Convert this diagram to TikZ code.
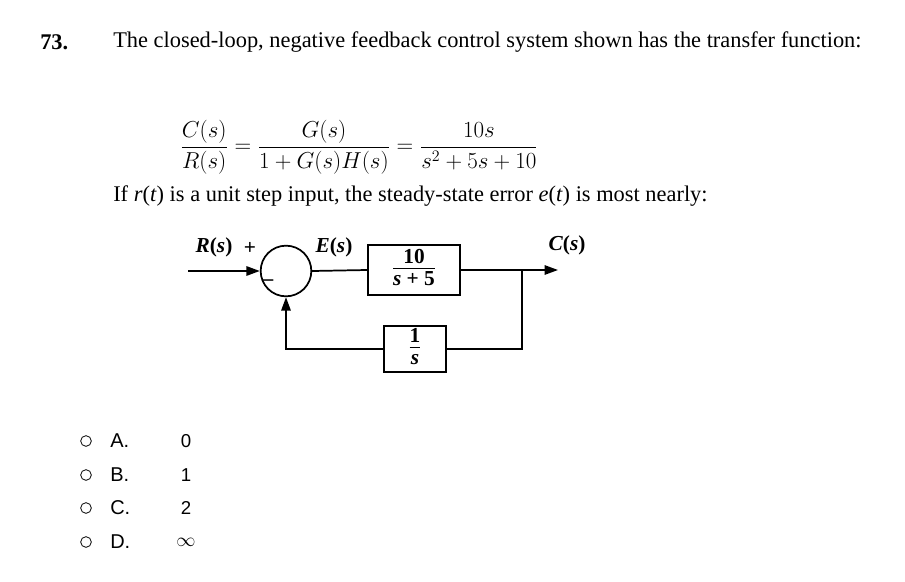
\documentclass[tikz,border=0pt]{standalone}
\usepackage{fontspec}
\setmainfont{Liberation Serif}
\newfontfamily\sansf{Liberation Sans}
\usetikzlibrary{arrows.meta}
\newcommand{\bfr}[2]{\ensuremath{\vcenter{\hbox{\begin{tabular}{@{}c@{}}#1\\[-2pt]\hline\rule{0pt}{12pt}#2\end{tabular}}}}}
\begin{document}
\begin{tikzpicture}[x=0.75pt,y=-0.75pt,
  txt/.style={anchor=west,inner sep=0pt,font=\fontsize{16.8}{20}\selectfont},
  blk/.style={draw,line width=1.3pt,minimum width=#1},
  sig/.style={line width=1.3pt},
  arr/.style={line width=1.3pt,-{Triangle[length=10pt,width=7pt]}},
  lab/.style={font=\bfseries\fontsize{16}{18}\selectfont},
  opt/.style={draw,circle,line width=0.6pt,minimum size=8pt,inner sep=0pt}]
\useasboundingbox (0,0) rectangle (905,581);
\node[txt,font=\bfseries\fontsize{16.8}{20}\selectfont] (n) at (40,42) {73.};
\node[txt] (q) at (113,42) {The closed-loop, negative feedback control system shown has the transfer function:};
\node[anchor=west,inner sep=0pt,font=\fontsize{17}{20}\selectfont] (eq) at (180,147)
  {$\displaystyle \frac{C(s)}{R(s)}=\frac{G(s)}{1+G(s)H(s)}=\frac{10s}{s^2+5s+10}$};
\node[txt] (q2) at (113,196) {If \textit{r}(\textit{t}) is a unit step input, the steady-state error \textit{e}(\textit{t}) is most nearly:};
% block diagram
\node[draw,circle,line width=1.3pt,minimum size=38pt,inner sep=0pt] (sum) at (286,271) {};
\node[blk=69pt,minimum height=37pt,inner sep=0pt,lab] (g) at (414,270) {\bfr{10}{\textit{s} + 5}};
\node[blk=47pt,minimum height=31pt,inner sep=0pt,lab] (h) at (415,349) {\bfr{1}{\textit{s}}};
\coordinate (in) at (188,271);
\coordinate (br) at (522,270);
\coordinate (out) at (558,270);
\draw[arr] (in) -- (sum.west);
\draw[sig] (sum.east) -- (g.west);
\draw[sig] (g.east) -- (br);
\draw[arr] (br) -- (out);
\draw[sig] (br) |- (h.east);
\draw[arr] (h.west) -| (sum.south);
\node[lab] (rl) at (214,247) {\textit{R}(\textit{s})};
\node[lab] (pl) at (250,248) {+};
\node[lab] (ml) at (268,283) {\textendash};
\node[lab] (el) at (334,247) {\textit{E}(\textit{s})};
\node[lab] (cl) at (567,245) {\textit{C}(\textit{s})};
% options
\foreach \y/\l/\v [count=\i] in {441/A./0,475/B./1,508/C./2,542/D./$\infty$}{
  \node[opt] (o\i) at (86,\y) {};
  \node[anchor=west,inner sep=0pt,font=\sansf\fontsize{15}{17}\selectfont] (l\i) at (110,\y) {\l};
  \node[font=\sansf\fontsize{14}{16}\selectfont] (v\i) at (186,\y) {\v};
}
\end{tikzpicture}
\end{document}
